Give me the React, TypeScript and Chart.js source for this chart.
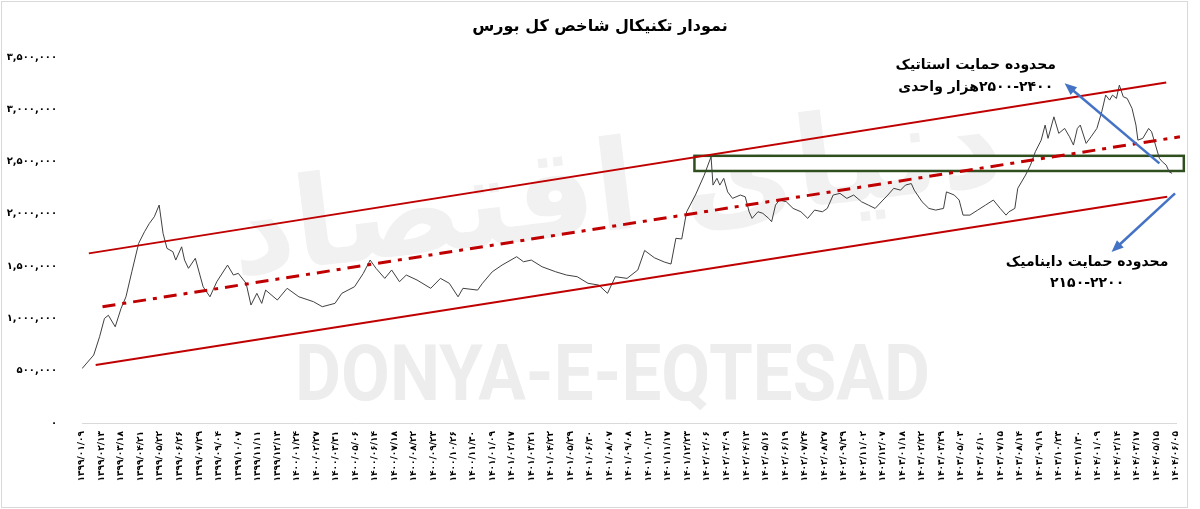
import React, { useEffect, useRef } from "react";
import { Chart, registerables } from "chart.js";

Chart.register(...registerables);

const FA_DIGITS = "۰۱۲۳۴۵۶۷۸۹";
const fa = (s: string) => s.replace(/\d/g, (d) => FA_DIGITS[Number(d)]);

const chartTitle = "نمودار تکنیکال شاخص کل بورس";

// x-axis tick labels, one every 20 trading days
const dateLabels = [
  "1399/01/09", "1399/02/13", "1399/03/18", "1399/04/21", "1399/05/22", "1399/06/26", "1399/07/29", "1399/09/04", "1399/10/07", "1399/11/11", "1399/12/13",
  "1400/01/24", "1400/02/27", "1400/03/31", "1400/05/06", "1400/06/14", "1400/07/18", "1400/08/22", "1400/09/23", "1400/10/26", "1400/11/30",
  "1401/01/09", "1401/02/17", "1401/03/21", "1401/04/22", "1401/05/29", "1401/06/30", "1401/08/07", "1401/09/08", "1401/10/12", "1401/11/17", "1401/12/23",
  "1402/02/06", "1402/03/09", "1402/04/13", "1402/05/16", "1402/06/19", "1402/07/24", "1402/08/27", "1402/09/29", "1402/11/02", "1402/12/07",
  "1403/01/18", "1403/02/22", "1403/03/29", "1403/05/03", "1403/06/10", "1403/07/15", "1403/08/14", "1403/09/19", "1403/10/23", "1403/11/30",
  "1404/01/09", "1404/02/14", "1404/03/17", "1404/05/15", "1404/06/05",
];
const DAYS_PER_LABEL = 20;

// index series: trading day number and value (thousand points)
const tradingDays = [
  0, 12, 18, 23, 27, 34, 40, 45, 51, 58,
  64, 69, 74, 79, 83, 87, 93, 96, 102, 105,
  109, 116, 124, 131, 138, 149, 155, 160, 168, 173,
  179, 184, 188, 200, 210, 222, 237, 246, 259, 266,
  279, 288, 295, 301, 310, 317, 325, 332, 343, 357,
  367, 376, 385, 390, 405, 410, 420, 430, 445, 452,
  460, 471, 485, 496, 507, 518, 529, 538, 546, 558,
  569, 576, 586, 596, 603, 608, 614, 619, 628, 637,
  644, 646, 650, 653, 657, 661, 666, 674, 679, 683,
  686, 692, 697, 703, 706, 710, 714, 721, 728, 736,
  743, 750, 758, 763, 769, 776, 783, 790, 798, 805,
  812, 820, 825, 831, 838, 843, 849, 852, 860, 867,
  874, 882, 885, 893, 898, 902, 909, 917, 925, 933,
  940, 946, 949, 955, 958, 966, 971, 976, 982, 986,
  989, 995, 1000, 1006, 1011, 1015, 1019, 1022, 1028, 1033,
  1039, 1044, 1048, 1052, 1055, 1059, 1062, 1066, 1070, 1075,
  1079, 1081, 1086, 1092, 1095, 1099, 1103, 1106, 1110, 1113,
  1116,
];
const indexThousands = [
  520, 650, 825, 1000, 1030, 920, 1096, 1207, 1446, 1718,
  1829, 1909, 1972, 2084, 1813, 1670, 1638, 1558, 1685, 1558,
  1479, 1575, 1303, 1207, 1351, 1510, 1415, 1431, 1336, 1128,
  1240, 1144, 1271, 1176, 1288, 1207, 1160, 1112, 1144, 1240,
  1303, 1431, 1558, 1479, 1383, 1463, 1351, 1415, 1367, 1288,
  1383, 1336, 1207, 1288, 1271, 1336, 1446, 1510, 1590, 1542,
  1558, 1494, 1446, 1415, 1399, 1336, 1319, 1240, 1399, 1383,
  1463, 1650, 1580, 1540, 1520, 1766, 1760, 2020, 2180, 2370,
  2546, 2275, 2340, 2275, 2340, 2210, 2148, 2180, 2163, 2020,
  1957, 2020, 2005, 1957, 1925, 2084, 2132, 2116, 2052, 2020,
  1957, 2036, 2020, 2052, 2180, 2196, 2148, 2180, 2116, 2084,
  2052, 2132, 2180, 2244, 2227, 2275, 2290, 2227, 2116, 2052,
  2036, 2052, 2210, 2180, 2132, 1988, 1988, 2036, 2084, 2132,
  2052, 1988, 2020, 2052, 2244, 2371, 2466, 2594, 2705, 2849,
  2722, 2928, 2770, 2817, 2737, 2658, 2817, 2849, 2674, 2737,
  2817, 2976, 3136, 3088, 3136, 3104, 3231, 3120, 3104, 3008,
  2849, 2705, 2722, 2817, 2785, 2658, 2530, 2498, 2466, 2402,
  2387,
];

// y-axis ticks (thousand points)
const yTicks = [0, 500, 1000, 1500, 2000, 2500, 3000, 3500];

// channel lines: [start, end]
const upperChannelDays = [7, 1110];
const upperChannelValues = [1622, 3257];
const lowerChannelDays = [14, 1111];
const lowerChannelValues = [554, 2163];
const midChannelDays = [21, 1124];
const midChannelValues = [1112, 2737];

// static support zone (box): day range and value range
const supportZoneDays = [627, 1128];
const supportZoneValues = [2410, 2555];

// arrows: [tail, head]
const staticArrowDays = [1103, 1006];
const staticArrowValues = [2483, 3248];
const dynamicArrowDays = [1119, 1054];
const dynamicArrowValues = [2196, 1635];

// annotation texts, anchored at [day, value] per line
const staticNoteLines = ["محدوده حمایت استاتیک", "۲۵۰۰-۲۴۰۰هزار واحدی"];
const staticNoteDay = 915;
const staticNoteValues = [3422, 3212];
const dynamicNoteLines = ["محدوده حمایت داینامیک", "۲۱۵۰-۲۲۰۰"];
const dynamicNoteDay = 1029;
const dynamicNoteValues = [1539, 1338];

const watermarkLatin = "DONYA-E-EQTESAD";
const watermarkPersian = "دنیای اقتصاد";

const PERSIAN_FONT = "'DejaVu Sans', 'Noto Sans', sans-serif";

function drawArrow(ctx: CanvasRenderingContext2D, x1: number, y1: number, x2: number, y2: number) {
  const ang = Math.atan2(y2 - y1, x2 - x1);
  const head = 12;
  const hw = 5;
  const c = Math.cos(ang);
  const s = Math.sin(ang);
  ctx.save();
  ctx.strokeStyle = "#4472c4";
  ctx.fillStyle = "#4472c4";
  ctx.lineWidth = 2.5;
  ctx.beginPath();
  ctx.moveTo(x1, y1);
  ctx.lineTo(x2 - head * 0.8 * c, y2 - head * 0.8 * s);
  ctx.stroke();
  ctx.beginPath();
  ctx.moveTo(x2, y2);
  ctx.lineTo(x2 - head * c + hw * s, y2 - head * s - hw * c);
  ctx.lineTo(x2 - head * c - hw * s, y2 - head * s + hw * c);
  ctx.closePath();
  ctx.fill();
  ctx.restore();
}

const decorPlugin = {
  id: "decor",
  beforeDraw(chart: any) {
    const { ctx, width, height, chartArea } = chart;
    ctx.save();
    ctx.fillStyle = "#ffffff";
    ctx.fillRect(0, 0, width, height);
    ctx.strokeStyle = "#d9d9d9";
    ctx.lineWidth = 1;
    ctx.strokeRect(1.5, 1.5, width - 14, height - 3);

    // Persian logo watermark
    ctx.save();
    ctx.translate(chartArea.left + 535, chartArea.top + 140);
    ctx.rotate(-0.12);
    ctx.fillStyle = "#f1f1f1";
    ctx.font = `bold 125px ${PERSIAN_FONT}`;
    ctx.textAlign = "center";
    ctx.textBaseline = "middle";
    ctx.direction = "rtl";
    ctx.fillText(watermarkPersian, 0, 0);
    ctx.restore();

    // Latin watermark
    ctx.save();
    ctx.font = "bold 77px Roboto, 'DejaVu Sans', sans-serif";
    const w = ctx.measureText(watermarkLatin).width;
    ctx.translate(chartArea.left + 213, chartArea.top + 343);
    ctx.scale(635 / w, 1);
    ctx.fillStyle = "#ededed";
    ctx.textAlign = "left";
    ctx.textBaseline = "alphabetic";
    ctx.fillText(watermarkLatin, 0, 0);
    ctx.restore();

    // title
    ctx.fillStyle = "#000000";
    ctx.font = `bold 16px ${PERSIAN_FONT}`;
    ctx.textAlign = "center";
    ctx.textBaseline = "middle";
    ctx.direction = "rtl";
    ctx.fillText(chartTitle, width / 2, 27);
    ctx.restore();
  },
  beforeDatasetsDraw(chart: any) {
    const { ctx, scales } = chart;
    const x = scales.x;
    const y = scales.y;
    const x1 = x.getPixelForValue(supportZoneDays[0]);
    const x2 = x.getPixelForValue(supportZoneDays[1]);
    const y1 = y.getPixelForValue(supportZoneValues[1]);
    const y2 = y.getPixelForValue(supportZoneValues[0]);
    ctx.save();
    ctx.fillStyle = "#ffffff";
    ctx.fillRect(x1, y1, x2 - x1, y2 - y1);
    ctx.strokeStyle = "#2f4f1f";
    ctx.lineWidth = 2.5;
    ctx.strokeRect(x1, y1, x2 - x1, y2 - y1);
    ctx.restore();
  },
  afterDatasetsDraw(chart: any) {
    const { ctx, scales } = chart;
    const x = scales.x;
    const y = scales.y;
    drawArrow(
      ctx,
      x.getPixelForValue(staticArrowDays[0]), y.getPixelForValue(staticArrowValues[0]),
      x.getPixelForValue(staticArrowDays[1]), y.getPixelForValue(staticArrowValues[1])
    );
    drawArrow(
      ctx,
      x.getPixelForValue(dynamicArrowDays[0]), y.getPixelForValue(dynamicArrowValues[0]),
      x.getPixelForValue(dynamicArrowDays[1]), y.getPixelForValue(dynamicArrowValues[1])
    );
    ctx.save();
    ctx.fillStyle = "#000000";
    ctx.font = `bold 14px ${PERSIAN_FONT}`;
    ctx.textAlign = "center";
    ctx.textBaseline = "middle";
    ctx.direction = "rtl";
    staticNoteLines.forEach((t, i) => {
      ctx.fillText(t, x.getPixelForValue(staticNoteDay), y.getPixelForValue(staticNoteValues[i]));
    });
    dynamicNoteLines.forEach((t, i) => {
      ctx.fillText(t, x.getPixelForValue(dynamicNoteDay), y.getPixelForValue(dynamicNoteValues[i]));
    });
    ctx.restore();
  },
};

export default function App() {
  const canvasRef = useRef<HTMLCanvasElement | null>(null);

  useEffect(() => {
    if (!canvasRef.current) return;
    const seg = (d: number[], v: number[]) => d.map((dd, i) => ({ x: dd, y: v[i] }));
    const chart = new Chart(canvasRef.current, {
      type: "line",
      data: {
        datasets: [
          {
            data: seg(upperChannelDays, upperChannelValues),
            borderColor: "#c00000",
            borderWidth: 2,
            pointRadius: 0,
          },
          {
            data: seg(lowerChannelDays, lowerChannelValues),
            borderColor: "#c00000",
            borderWidth: 2,
            pointRadius: 0,
          },
          {
            data: seg(midChannelDays, midChannelValues),
            borderColor: "#c00000",
            borderWidth: 3,
            borderDash: [13, 7, 4, 7],
            pointRadius: 0,
            clip: false,
          },
          {
            data: seg(tradingDays, indexThousands),
            borderColor: "#404040",
            borderWidth: 1,
            pointRadius: 0,
            tension: 0,
          },
        ],
      },
      options: {
        animation: false,
        responsive: true,
        maintainAspectRatio: false,
        layout: { padding: { top: 57, right: 24, bottom: 0, left: 0 } },
        plugins: { legend: { display: false }, tooltip: { enabled: false }, title: { display: false } },
        scales: {
          x: {
            type: "linear",
            min: 0,
            max: (dateLabels.length - 1) * DAYS_PER_LABEL,
            afterBuildTicks: (s: any) => {
              s.ticks = dateLabels.map((_, i) => ({ value: i * DAYS_PER_LABEL }));
            },
            afterFit: (s: any) => {
              s.height = 86;
            },
            grid: { display: true, drawOnChartArea: false, drawTicks: false },
            border: { display: true, color: "#d9d9d9", width: 1 },
            ticks: {
              autoSkip: false,
              maxRotation: 90,
              minRotation: 90,
              padding: 8,
              color: "#000000",
              font: { family: PERSIAN_FONT, size: 9, weight: "bold" },
              callback: (v: any) => fa(dateLabels[Math.round(Number(v) / DAYS_PER_LABEL)] ?? ""),
            },
          },
          y: {
            min: 0,
            max: 3500,
            afterBuildTicks: (s: any) => {
              s.ticks = yTicks.map((v) => ({ value: v }));
            },
            afterFit: (s: any) => {
              s.width = 82;
            },
            grid: { display: false },
            border: { display: false },
            ticks: {
              padding: 17,
              color: "#000000",
              font: { family: PERSIAN_FONT, size: 10, weight: "bold" },
              callback: (v: any) => fa((Number(v) * 1000).toLocaleString("en-US")),
            },
          },
        },
      },
      plugins: [decorPlugin],
    });
    return () => chart.destroy();
  }, []);

  return (
    <div style={{ position: "fixed", left: 0, top: 0, width: 1200, height: 509 }}>
      <canvas ref={canvasRef} />
    </div>
  );
}
